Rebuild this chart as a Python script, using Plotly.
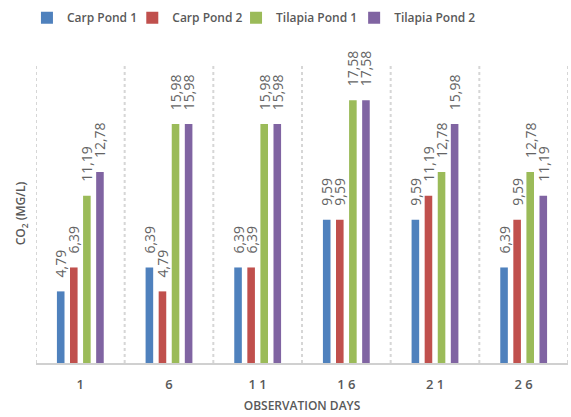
import plotly.graph_objects as go

# Observation days and CO2 readings (mg/L) per pond
days = ["1", "6", "1 1", "1 6", "2 1", "2 6"]
carp_pond_1 = [4.79, 6.39, 6.39, 9.59, 9.59, 6.39]
carp_pond_2 = [6.39, 4.79, 6.39, 9.59, 11.19, 9.59]
tilapia_pond_1 = [11.19, 15.98, 15.98, 17.58, 12.78, 12.78]
tilapia_pond_2 = [12.78, 15.98, 15.98, 17.58, 15.98, 11.19]

series = [
    ("Carp Pond 1", carp_pond_1, "#4F81BD"),
    ("Carp Pond 2", carp_pond_2, "#C0504D"),
    ("Tilapia Pond 1", tilapia_pond_1, "#9BBB59"),
    ("Tilapia Pond 2", tilapia_pond_2, "#8064A2"),
]

FONT = "Open Sans, Liberation Sans, sans-serif"
GREY = "#595959"
PAD = "\u00a0" * 3  # gap between bar top and its rotated label

# one legend box per series so the entries sit close together
legend_ids = ["legend", "legend2", "legend3", "legend4"]
legend_x = [-0.017, 0.181, 0.376, 0.598]

fig = go.Figure()
for (name, vals, color), lid in zip(series, legend_ids):
    fig.add_trace(go.Bar(
        name=name,
        legend=lid,
        x=list(range(len(days))),
        y=vals,
        marker=dict(color=color, line=dict(width=0)),
        text=[PAD + f"{v:.2f}".replace(".", ",") for v in vals],
        textposition="outside",
        textangle=-90,
        constraintext="none",
        cliponaxis=False,
        textfont=dict(family=FONT, size=14, color="#646464"),
    ))

# dotted separators between day groups
shapes = []
for i in range(len(days) + 1):
    shapes.append(dict(
        type="line", xref="x", yref="paper",
        x0=i - 0.5, x1=i - 0.5, y0=0, y1=1,
        line=dict(color="#D6D6D6", width=2, dash="dot"),
        layer="below",
    ))

legend_style = dict(
    orientation="h",
    xanchor="left",
    y=1.155, yanchor="middle",
    font=dict(family=FONT, size=12, color=GREY, weight=600),
    itemwidth=30,
    bgcolor="rgba(0,0,0,0)",
)
legends = {lid: dict(legend_style, x=lx) for lid, lx in zip(legend_ids, legend_x)}

fig.update_layout(
    width=571, height=417,
    margin=dict(l=36, r=3, t=54, b=54),
    paper_bgcolor="white", plot_bgcolor="white",
    barmode="group",
    bargap=0.41,
    bargroupgap=0.42,
    shapes=shapes,
    font=dict(family=FONT, color=GREY),
    showlegend=True,
    xaxis=dict(
        tickmode="array",
        tickvals=list(range(len(days))),
        ticktext=days,
        range=[-0.5, len(days) - 0.5],
        showgrid=False,
        zeroline=False,
        showline=True,
        linecolor="#D0D0D0",
        linewidth=2,
        ticks="",
        ticklabelstandoff=8,
        tickfont=dict(family=FONT, size=13, color=GREY, weight=600),
        title=dict(text="OBSERVATION DAYS",
                   font=dict(family=FONT, size=12, color=GREY, weight=600),
                   standoff=10),
    ),
    yaxis=dict(
        range=[0, 20],
        showgrid=False,
        zeroline=False,
        showline=False,
        showticklabels=False,
        ticks="",
        title=dict(text="CO<sub>2</sub> (MG/L)",
                   font=dict(family=FONT, size=12, color=GREY, weight=600),
                   standoff=6),
    ),
    **legends,
)

fig.write_html("out.html")
